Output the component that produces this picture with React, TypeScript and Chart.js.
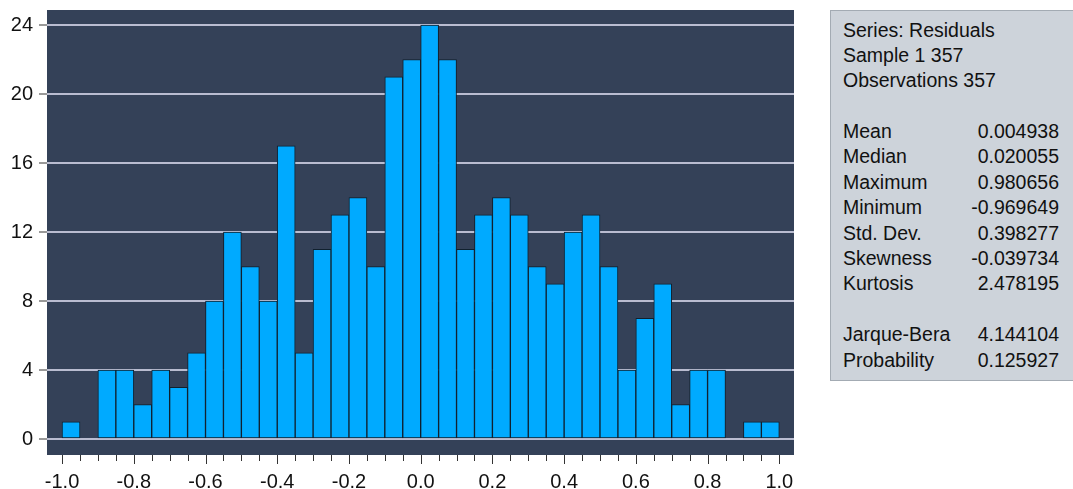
import React, { useEffect, useRef } from "react";
import { Chart, registerables } from "chart.js";

Chart.register(...registerables);

const binCenters = [
  -0.975, -0.925, -0.875, -0.825, -0.775, -0.725, -0.675, -0.625, -0.575, -0.525,
  -0.475, -0.425, -0.375, -0.325, -0.275, -0.225, -0.175, -0.125, -0.075, -0.025,
  0.025, 0.075, 0.125, 0.175, 0.225, 0.275, 0.325, 0.375, 0.425, 0.475,
  0.525, 0.575, 0.625, 0.675, 0.725, 0.775, 0.825, 0.875, 0.925, 0.975,
];
const counts = [
  1, 0, 4, 4, 2, 4, 3, 5, 8, 12,
  10, 8, 17, 5, 11, 13, 14, 10, 21, 22,
  24, 22, 11, 13, 14, 13, 10, 9, 12, 13,
  10, 4, 7, 9, 2, 4, 4, 0, 1, 1,
];
const xTickValues = [-1.0, -0.8, -0.6, -0.4, -0.2, 0.0, 0.2, 0.4, 0.6, 0.8, 1.0];
const xMinorTickValues = [
  -1.0, -0.95, -0.9, -0.85, -0.8, -0.75, -0.7, -0.65, -0.6, -0.55, -0.5, -0.45, -0.4,
  -0.35, -0.3, -0.25, -0.2, -0.15, -0.1, -0.05, 0.0, 0.05, 0.1, 0.15, 0.2, 0.25, 0.3,
  0.35, 0.4, 0.45, 0.5, 0.55, 0.6, 0.65, 0.7, 0.75, 0.8, 0.85, 0.9, 0.95, 1.0,
];
const yTickValues = [0, 4, 8, 12, 16, 20, 24];

const statsHeader = ["Series: Residuals", "Sample 1 357", "Observations 357"];
const statLabels = ["Mean", "Median", "Maximum", "Minimum", "Std. Dev.", "Skewness", "Kurtosis"];
const statValues = ["0.004938", "0.020055", "0.980656", "-0.969649", "0.398277", "-0.039734", "2.478195"];
const testLabels = ["Jarque-Bera", "Probability"];
const testValues = ["4.144104", "0.125927"];

const FONT = 'Arial, "Liberation Sans", sans-serif';

export default function App() {
  const ref = useRef<HTMLCanvasElement | null>(null);

  useEffect(() => {
    if (!ref.current) return;
    const bgPlugin = {
      id: "plotBg",
      beforeDraw(chart: any) {
        const { ctx, chartArea } = chart;
        ctx.save();
        ctx.fillStyle = "#344158";
        ctx.fillRect(chartArea.left, chartArea.top, chartArea.right - chartArea.left, chartArea.bottom - chartArea.top);
        ctx.restore();
      },
      afterDraw(chart: any) {
        const { ctx, chartArea } = chart;
        const xs = chart.scales.x;
        ctx.save();
        ctx.strokeStyle = "#333333";
        ctx.lineWidth = 1;
        xMinorTickValues.forEach((v, i) => {
          const px = Math.round(xs.getPixelForValue(v)) + 0.5;
          const len = i % 4 === 0 ? 9 : 6;
          ctx.beginPath();
          ctx.moveTo(px, chartArea.bottom);
          ctx.lineTo(px, chartArea.bottom + len);
          ctx.stroke();
        });
        ctx.restore();
      },
    };

    const chart = new Chart(ref.current, {
      type: "bar",
      data: {
        datasets: [
          {
            data: binCenters.map((x, i) => ({ x, y: counts[i] })),
            backgroundColor: "#00AAFF",
            borderColor: "#10202E",
            borderWidth: 1,
            borderSkipped: false,
            barPercentage: 1,
            categoryPercentage: 1,
          },
        ],
      },
      options: {
        animation: false,
        responsive: false,
        events: [],
        layout: { padding: { top: 10, right: 6, left: 0, bottom: 0 } },
        plugins: { legend: { display: false }, tooltip: { enabled: false } },
        scales: {
          x: {
            type: "linear",
            offset: false,
            min: -1.042,
            max: 1.041,
            afterBuildTicks: (s: any) => {
              s.ticks = xTickValues.map((v) => ({ value: v }));
            },
            afterFit: (s: any) => {
              s.height = 34;
              s.paddingLeft = 0;
              s.paddingRight = 0;
            },
            grid: { display: false, drawTicks: false },
            border: { display: false },
            ticks: {
              color: "#111111",
              font: { family: FONT, size: 20 },
              padding: 15,
              maxRotation: 0,
              autoSkip: false,
              callback: (v: any) => Number(v).toFixed(1),
            },
          },
          y: {
            type: "linear",
            min: -0.925,
            max: 24.87,
            afterBuildTicks: (s: any) => {
              s.ticks = yTickValues.map((v) => ({ value: v }));
            },
            afterFit: (s: any) => {
              s.width = 47;
              s.paddingTop = 0;
              s.paddingBottom = 0;
            },
            grid: {
              color: "#B9BCD0",
              lineWidth: 2,
              tickColor: "#333333",
              tickWidth: 1,
              tickLength: 8,
            },
            border: { display: false },
            ticks: {
              color: "#111111",
              font: { family: FONT, size: 20 },
              padding: 6,
              callback: (v: any) => String(v),
            },
          },
        },
      },
      plugins: [bgPlugin],
    } as any);
    return () => chart.destroy();
  }, []);

  const rowH = 25.4;
  const rowStyle: React.CSSProperties = {
    height: rowH,
    lineHeight: rowH + "px",
    display: "flex",
    justifyContent: "space-between",
    whiteSpace: "nowrap",
  };

  return (
    <div style={{ position: "fixed", left: 0, top: 0, width: 1073, height: 489, background: "#ffffff", overflow: "hidden" }}>
      <canvas ref={ref} width={800} height={489} style={{ position: "absolute", left: 0, top: 0, width: 800, height: 489 }} />
      <div
        style={{
          position: "absolute",
          left: 830,
          top: 10,
          width: 260,
          height: 371,
          background: "#CDD3DA",
          border: "1px solid #A3ABB3",
          boxSizing: "border-box",
          fontFamily: FONT,
          fontSize: 19.5,
          color: "#111111",
          paddingTop: 6.5,
          paddingLeft: 12,
        }}
      >
        <div style={{ width: 216 }}>
          {statsHeader.map((t) => (
            <div key={t} style={rowStyle}>
              <span>{t}</span>
            </div>
          ))}
          <div style={rowStyle} />
          {statLabels.map((t, i) => (
            <div key={t} style={rowStyle}>
              <span>{t}</span>
              <span>{statValues[i]}</span>
            </div>
          ))}
          <div style={rowStyle} />
          {testLabels.map((t, i) => (
            <div key={t} style={rowStyle}>
              <span>{t}</span>
              <span>{testValues[i]}</span>
            </div>
          ))}
        </div>
      </div>
    </div>
  );
}
